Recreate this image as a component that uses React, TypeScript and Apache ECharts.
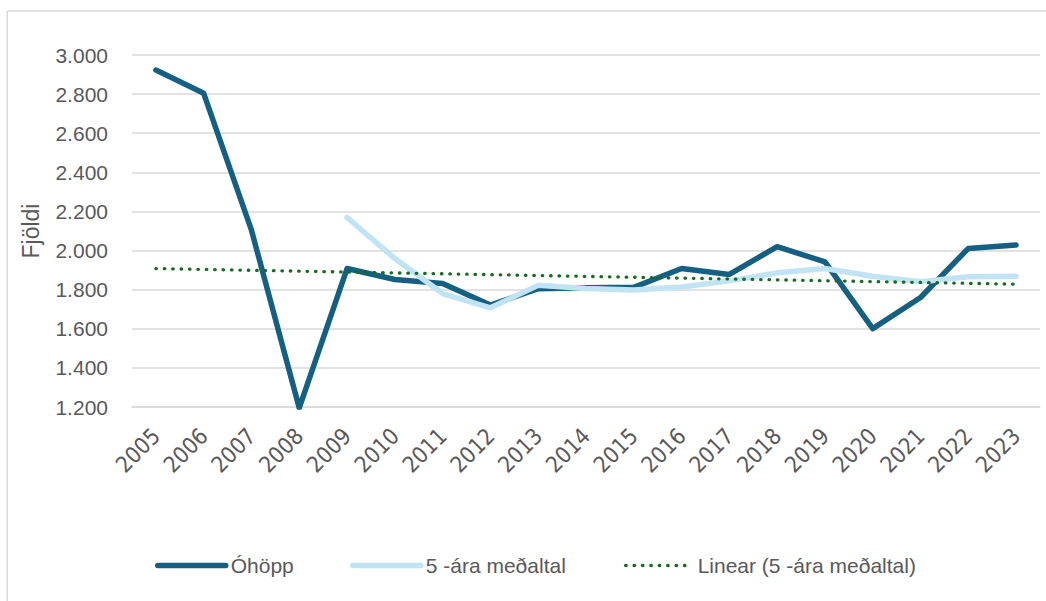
import React, { useEffect, useRef } from "react";
import * as echarts from "echarts";

const years = ["2005","2006","2007","2008","2009","2010","2011","2012","2013","2014","2015","2016","2017","2018","2019","2020","2021","2022","2023"];
const ohopp = [2923, 2804, 2104, 1195, 1908, 1852, 1832, 1721, 1805, 1810, 1812, 1908, 1878, 2020, 1942, 1601, 1760, 2011, 2028];
const fiveYearAvg = [null, null, null, null, 2169, 1959, 1780, 1707, 1822, 1806, 1798, 1814, 1845, 1886, 1908, 1869, 1840, 1866, 1869];
// linear trendline of the 5-year average, read at its two ends
const trendLine = [1908, null, null, null, null, null, null, null, null, null, null, null, null, null, null, null, null, null, 1828];

const seriesNames = ["Óhöpp", "5 -ára meðaltal", "Linear (5 -ára meðaltal)"];
const yAxisName = "Fjöldi";

const FONT = "'Liberation Sans', Arial, sans-serif";
const NARROW = "'Liberation Sans Narrow', 'Arial Narrow', 'DejaVu Sans Condensed', 'Liberation Sans', sans-serif";
const TXT = "#595959";
const GRID = "#d9d9d9";
const DARK = "#156082";
const LIGHT = "#C1E4F5";
const GREEN = "#196B24";

function fmt(v: number) {
  const t = Math.floor(v / 1000);
  const r = String(v % 1000).padStart(3, "0");
  return t > 0 ? `${t}.${r}` : String(v);
}

export default function App() {
  const ref = useRef<HTMLDivElement>(null);
  useEffect(() => {
    document.body.style.margin = "0";
    if (!ref.current) return;
    const chart = echarts.init(ref.current, undefined, { renderer: "svg" });
    const legendText = { fontFamily: FONT, fontSize: 21, color: TXT };
    const hiddenSymbol = { color: "rgba(0,0,0,0)", borderWidth: 0, opacity: 0 };
    chart.setOption({
      animation: false,
      backgroundColor: "#ffffff",
      grid: { left: 132, right: 6, top: 55, bottom: 194, containLabel: false, outerBoundsMode: "none" },
      xAxis: {
        type: "category",
        data: years,
        boundaryGap: true,
        axisTick: { show: false },
        axisLine: { lineStyle: { color: GRID, width: 1.5 } },
        axisLabel: { rotate: 45, interval: 0, margin: 25, fontFamily: NARROW, fontSize: 22.5, color: TXT },
      },
      yAxis: {
        type: "value",
        min: 1200,
        max: 3000,
        interval: 200,
        name: yAxisName,
        nameLocation: "middle",
        nameGap: 90,
        nameTextStyle: { fontFamily: FONT, fontSize: 23, color: TXT },
        axisLine: { show: false },
        axisTick: { show: false },
        axisLabel: { margin: 24, fontFamily: FONT, fontSize: 21, color: TXT, formatter: (v: number) => fmt(v) },
        splitLine: { lineStyle: { color: GRID, width: 1.5 } },
      },
      legend: [
        { data: [seriesNames[0]], left: 150, top: 550, itemWidth: 68, itemHeight: 14, textStyle: legendText,
          itemStyle: hiddenSymbol, lineStyle: { width: 5.5, cap: "round", color: DARK } },
        { data: [seriesNames[1]], left: 345, top: 550, itemWidth: 68, itemHeight: 14, textStyle: legendText,
          itemStyle: hiddenSymbol, lineStyle: { width: 5.5, cap: "round", color: LIGHT } },
        { data: [seriesNames[2]], left: 619, top: 550, itemWidth: 67, itemHeight: 14, textStyle: legendText,
          itemStyle: hiddenSymbol, lineStyle: { width: 3.3, cap: "round", color: GREEN, type: [0.5, 7.9] } },
      ],
      graphic: [
        { type: "line", shape: { x1: 7.3, y1: 11, x2: 1046, y2: 11 }, style: { stroke: GRID, lineWidth: 1.5 } },
        { type: "line", shape: { x1: 7.3, y1: 11, x2: 7.3, y2: 601 }, style: { stroke: GRID, lineWidth: 1.5 } },
      ],
      series: [
        {
          name: seriesNames[0],
          type: "line",
          data: ohopp,
          symbol: "none",
          lineStyle: { color: DARK, width: 5.5, cap: "round", join: "round" },
          itemStyle: { color: DARK },
        },
        {
          name: seriesNames[1],
          type: "line",
          data: fiveYearAvg,
          symbol: "none",
          lineStyle: { color: LIGHT, width: 5.5, cap: "round", join: "round" },
          itemStyle: { color: LIGHT },
        },
        {
          name: seriesNames[2],
          type: "line",
          data: trendLine,
          connectNulls: true,
          symbol: "none",
          lineStyle: { color: GREEN, width: 3.3, type: [0.5, 7.9], cap: "round" },
          itemStyle: { color: GREEN },
        },
      ],
    });
    return () => chart.dispose();
  }, []);
  return <div ref={ref} style={{ width: 1046, height: 601 }} />;
}
